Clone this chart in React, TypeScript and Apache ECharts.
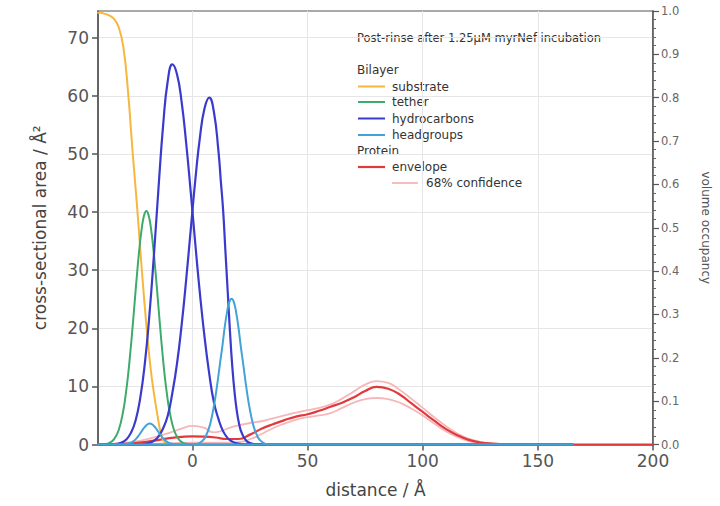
import React, { useEffect, useRef } from "react";
import * as echarts from "echarts";

// ---------- data (distance / Å, cross-sectional area / Å²) ----------
const xTickValues = [0, 50, 100, 150, 200];
const yTickValues = [0, 10, 20, 30, 40, 50, 60, 70];

const substrate: number[][] = [
  [-41, 74.3], [-40, 74.3], [-38, 74.1], [-36, 73.8], [-34, 73.2], [-32, 71.8], [-30, 68.4],
  [-28, 60.9], [-26, 50.5], [-24, 40.8], [-22, 30.2], [-20, 20.5], [-19, 16.3], [-18, 12.6],
  [-17, 9.6], [-16, 7.0], [-15, 4.6], [-14, 2.4], [-13, 1.0], [-12, 0.4], [-10, 0.05], [-8, 0], [165, 0],
];

const tether: number[][] = [
  [-41, 0], [-40, 0.05], [-38, 0.08], [-36, 0.29], [-34, 0.93], [-32, 2.5], [-30, 5.9], [-29, 8.5],
  [-28, 11.7], [-27, 15.7], [-26, 20.1], [-25, 24.9], [-24, 29.6], [-23, 33.8], [-22, 37.2],
  [-21, 39.4], [-20, 40.2], [-19, 39.4], [-18, 37.2], [-17, 33.8], [-16, 29.6], [-15, 24.9],
  [-14, 20.1], [-13, 15.7], [-12, 11.7], [-11, 8.5], [-10, 5.9], [-8, 2.5], [-6, 0.93],
  [-4, 0.29], [-2, 0.08], [0, 0], [165, 0],
];

const hydrocarbonsInner: number[][] = [
  [-41, 0], [-34.7, 0.04], [-32.7, 0.13], [-30.7, 0.35], [-28.7, 0.87], [-26.7, 2.0], [-24.7, 4.1],
  [-22.7, 7.9], [-20.7, 13.8], [-18.7, 22.2], [-16.7, 32.7], [-14.7, 44.3], [-12.7, 55.0],
  [-10.7, 62.6], [-8.7, 65.4], [-6.7, 63.7], [-4.7, 59.0], [-2.7, 51.8], [-0.7, 43.3], [1.3, 34.3],
  [3.3, 25.8], [5.3, 18.4], [7.3, 12.2], [9.3, 7.3], [11.3, 4.4], [13.3, 2.3], [15.3, 1.1],
  [17.3, 0.5], [19.3, 0.2], [23.3, 0.03], [28, 0], [165, 0],
];

const hydrocarbonsOuter: number[][] = [
  [-41, 0], [-22.7, 0.04], [-18.7, 0.25], [-16.7, 0.65], [-14.7, 1.4], [-12.7, 2.8], [-10.7, 5.0],
  [-8.7, 8.9], [-6.7, 13.9], [-4.7, 20.5], [-2.7, 28.4], [-0.7, 37.1], [1.3, 45.7], [3.3, 53.0],
  [5.3, 57.9], [7.3, 59.7], [9.3, 57.3], [11.3, 50.5], [12.3, 45.5], [13.3, 40.5], [14.3, 33.5],
  [15.3, 26.5], [16.3, 19.5], [17.3, 13.5], [18.3, 9.0], [19.3, 5.7], [20.3, 3.5], [21.3, 2.1],
  [23.3, 0.7], [25.3, 0.2], [27.3, 0.05], [32, 0], [165, 0],
];

const headgroupsInner: number[][] = [
  [-41, 0], [-30.5, 0.02], [-28.5, 0.1], [-26.5, 0.35], [-25.5, 0.6], [-24.5, 0.97], [-23.5, 1.45],
  [-22.5, 2.0], [-21.5, 2.6], [-20.5, 3.1], [-19.5, 3.47], [-18.5, 3.6], [-17.5, 3.47], [-16.5, 3.1],
  [-15.5, 2.6], [-14.5, 2.0], [-13.5, 1.45], [-12.5, 0.97], [-11.5, 0.6], [-10.5, 0.35],
  [-8.5, 0.1], [-6.5, 0.02], [-4, 0], [165, 0],
];

const headgroupsOuter: number[][] = [
  [-41, 0], [1, 0.05], [3, 0.25], [5, 0.9], [6, 1.6], [7, 2.6], [8, 4.0], [9, 5.9], [10, 8.2],
  [11, 11.0], [12, 14.0], [13, 16.9], [14, 20.1], [15, 22.7], [16, 24.5], [17, 25.1], [18, 24.5],
  [19, 22.7], [20, 20.1], [21, 16.9], [22, 14.0], [23, 11.0], [24, 8.2], [25, 5.9], [26, 4.0],
  [27, 2.6], [28, 1.6], [29, 0.9], [31, 0.25], [33, 0.05], [36, 0], [165, 0],
];

const envelope: number[][] = [
  [-41, 0], [-35, 0.05], [-30, 0.12], [-25, 0.25], [-20, 0.45], [-15, 0.75], [-10, 1.1], [-5, 1.3],
  [0, 1.4], [5, 1.35], [10, 1.2], [15, 0.95], [20, 0.95], [25, 1.7], [30, 2.7], [35, 3.5],
  [40, 4.2], [45, 4.8], [50, 5.2], [55, 5.8], [60, 6.5], [65, 7.2], [70, 8.1], [75, 9.2],
  [80, 9.9], [85, 9.6], [90, 8.6], [95, 7.1], [100, 5.6], [105, 4.1], [110, 2.7], [115, 1.6],
  [120, 0.8], [125, 0.35], [130, 0.15], [135, 0.07], [140, 0.03], [150, 0], [200, 0],
];

const confidenceUpper: number[][] = [
  [-41, 0], [-35, 0.1], [-30, 0.3], [-25, 0.5], [-20, 0.9], [-15, 1.4], [-10, 2.0], [-5, 2.7],
  [0, 3.2], [5, 2.9], [9, 2.1], [13, 2.4], [17, 3.0], [20, 3.3], [25, 3.7], [30, 4.0], [35, 4.5],
  [40, 5.0], [45, 5.5], [50, 5.9], [55, 6.3], [60, 6.9], [65, 7.9], [70, 9.1], [75, 10.3],
  [80, 10.9], [85, 10.6], [90, 9.4], [95, 7.9], [100, 6.3], [105, 4.7], [110, 3.2], [115, 1.9],
  [120, 1.0], [125, 0.45], [130, 0.2], [140, 0.05], [150, 0], [165, 0],
];

const confidenceLower: number[][] = [
  [-41, 0], [-20, 0.1], [-10, 0.2], [0, 0.3], [10, 0.3], [20, 0.4], [25, 0.9], [30, 1.8],
  [35, 2.8], [40, 3.6], [45, 4.3], [50, 4.7], [55, 5.0], [60, 5.4], [65, 6.3], [70, 7.2],
  [75, 7.8], [80, 8.0], [85, 7.8], [90, 7.2], [95, 6.2], [100, 5.0], [105, 3.6], [110, 2.3],
  [115, 1.3], [120, 0.6], [125, 0.25], [130, 0.1], [140, 0.02], [150, 0], [165, 0],
];

const legendTitle = "Post-rinse after 1.25\u00b5M myrNef incubation";
const bilayerLegend = ["substrate", "tether", "hydrocarbons", "headgroups"];
const proteinLegend = ["envelope", "68% confidence"];

const COLORS: Record<string, string> = {
  substrate: "#f5b73e",
  tether: "#3dab6b",
  hydrocarbons: "#3a3ace",
  headgroups: "#43a2d8",
  envelope: "#e13a3d",
  confidence: "#f7b7b9",
};

const FONT = "'DejaVu Sans', Verdana, sans-serif";

function lineSeries(name: string, data: number[][], color: string, width: number, z: number) {
  return {
    name,
    type: "line",
    data,
    showSymbol: false,
    smooth: 0.5,
    z,
    lineStyle: { color, width, cap: "round", join: "round" },
    itemStyle: { color },
    emphasis: { disabled: true },
  };
}

function buildGraphic() {
  const items: any[] = [];
  const lx = 358;
  const tx = 392;
  items.push({
    type: "text",
    x: 357, y: 38,
    style: { text: legendTitle, font: `11.5px ${FONT}`, fill: "#333", textVerticalAlign: "middle" },
  });
  items.push({
    type: "text",
    x: 357, y: 70,
    style: { text: "Bilayer", font: `12px ${FONT}`, fill: "#333", textVerticalAlign: "middle" },
  });
  const bY = [86.5, 102, 118.5, 135];
  bilayerLegend.forEach((n, i) => {
    items.push({ type: "line", shape: { x1: lx, y1: bY[i], x2: lx + 27, y2: bY[i] }, style: { stroke: COLORS[n], lineWidth: 2 } });
    items.push({
      type: "text", x: tx, y: bY[i],
      style: { text: n, font: `12px ${FONT}`, fill: "#333", textVerticalAlign: "middle" },
    });
  });
  items.push({
    type: "text",
    x: 357, y: 151,
    style: { text: "Protein", font: `12px ${FONT}`, fill: "#333", textVerticalAlign: "middle" },
  });
  items.push({ type: "line", shape: { x1: lx, y1: 167, x2: lx + 27, y2: 167 }, style: { stroke: COLORS.envelope, lineWidth: 2.2 } });
  items.push({
    type: "text", x: tx, y: 167,
    style: { text: proteinLegend[0], font: `12px ${FONT}`, fill: "#333", textVerticalAlign: "middle" },
  });
  items.push({ type: "line", shape: { x1: 392, y1: 183, x2: 418, y2: 183 }, style: { stroke: COLORS.confidence, lineWidth: 1.8 } });
  items.push({
    type: "text", x: 426, y: 183,
    style: { text: proteinLegend[1], font: `12px ${FONT}`, fill: "#333", textVerticalAlign: "middle" },
  });
  return items;
}

export default function App() {
  const ref = useRef<HTMLDivElement>(null);
  useEffect(() => {
    if (!ref.current) return;
    const chart = echarts.init(ref.current, null, { renderer: "svg" });
    const axisLineStyle = { color: "#555", width: 1.5 };
    const option: any = {
      animation: false,
      backgroundColor: "#fff",
      textStyle: { fontFamily: FONT },
      grid: { left: 98, right: 61, top: 11, bottom: 61.5, show: true, borderColor: "#555", borderWidth: 1.2, backgroundColor: "transparent" },
      xAxis: {
        type: "value",
        min: -41,
        max: 200,
        name: "distance / \u00c5",
        nameLocation: "middle",
        nameGap: 37,
        nameTextStyle: { fontSize: 17, color: "#444", fontFamily: FONT },
        axisLine: { show: true, onZero: false, lineStyle: axisLineStyle },
        axisTick: { show: true, length: 6, customValues: xTickValues, lineStyle: { color: "#555", width: 1.5 } },
        axisLabel: { customValues: xTickValues, fontSize: 17, color: "#555", margin: 8, fontFamily: FONT },
        splitLine: { show: true, lineStyle: { color: "#e6e6e6", width: 1 } },
      },
      yAxis: [
        {
          type: "value",
          min: 0,
          max: 74.6,
          position: "left",
          name: "cross-sectional area / \u00c5\u00b2",
          nameLocation: "middle",
          nameGap: 50,
          nameRotate: 90,
          nameTextStyle: { fontSize: 17, color: "#444", fontFamily: FONT },
          axisLine: { show: true, onZero: false, lineStyle: axisLineStyle },
          axisTick: { show: true, length: 6, customValues: yTickValues, lineStyle: { color: "#555", width: 1.5 } },
          axisLabel: { customValues: yTickValues, fontSize: 17, color: "#555", margin: 9, fontFamily: FONT },
          splitLine: { show: true, lineStyle: { color: "#e6e6e6", width: 1 } },
        },
        {
          type: "value",
          min: 0,
          max: 1,
          interval: 0.1,
          position: "right",
          name: "volume occupancy",
          nameLocation: "middle",
          nameGap: 47,
          nameRotate: -90,
          nameTextStyle: { fontSize: 12, color: "#555", fontFamily: FONT },
          axisLine: { show: true, onZero: false, lineStyle: axisLineStyle },
          axisTick: { show: true, length: 6, lineStyle: { color: "#555", width: 1.2 } },
          minorTick: { show: true, splitNumber: 5, length: 3, lineStyle: { color: "#666", width: 1 } },
          axisLabel: { fontSize: 11.5, color: "#666", margin: 8, fontFamily: FONT, formatter: (v: number) => v.toFixed(1) },
          splitLine: { show: false },
          minorSplitLine: { show: false },
        },
      ],
      graphic: buildGraphic(),
      series: [
        lineSeries("68% confidence upper", confidenceUpper, COLORS.confidence, 1.8, 1),
        lineSeries("68% confidence lower", confidenceLower, COLORS.confidence, 1.8, 1),
        lineSeries("envelope", envelope, COLORS.envelope, 2.2, 2),
        lineSeries("substrate", substrate, COLORS.substrate, 2, 3),
        lineSeries("tether", tether, COLORS.tether, 2, 3),
        lineSeries("hydrocarbons", hydrocarbonsInner, COLORS.hydrocarbons, 2.2, 3),
        lineSeries("hydrocarbons", hydrocarbonsOuter, COLORS.hydrocarbons, 2.2, 3),
        lineSeries("headgroups", headgroupsInner, COLORS.headgroups, 2, 3),
        lineSeries("headgroups", headgroupsOuter, COLORS.headgroups, 2, 3),
      ],
    };
    chart.setOption(option);
    return () => chart.dispose();
  }, []);
  return (
    <div
      ref={ref}
      style={{ position: "fixed", left: 0, top: 0, width: 720, height: 506, background: "#fff" }}
    />
  );
}
